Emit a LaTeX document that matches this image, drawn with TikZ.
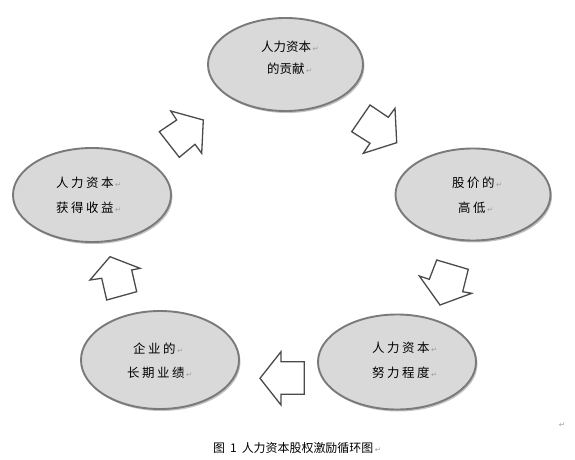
\documentclass[tikz,border=0pt]{standalone}
\usepackage{fontspec}
\usetikzlibrary{shapes.geometric,shadows}
\newfontfamily\cjk{Noto Sans CJK SC}
\newfontfamily\dvs{DejaVu Sans}
\definecolor{ellfill}{HTML}{D9D9D9}
\definecolor{elldraw}{HTML}{7A7A7A}
\definecolor{shadowc}{HTML}{9A9A9A}
\definecolor{arrowc}{HTML}{4A4A4A}
\definecolor{markc}{HTML}{A0A0A0}
\newcommand\rt{\hspace{1.5bp}{\dvs\fontsize{7.5}{8}\selectfont\color{markc}↵}}
\newcommand\gp{\kern2.5bp}
\begin{document}
\begin{tikzpicture}[x=1bp,y=-1bp,
  ell/.style={ellipse, draw=elldraw, line width=1.9bp, fill=ellfill, inner sep=0pt,
    drop shadow={shadow xshift=1.5bp, shadow yshift=-2bp, fill=shadowc, opacity=0.6}},
  lbl/.style={font=\cjk\fontsize{12.5}{14}\selectfont, inner sep=0pt, anchor=west},
  blockarrow/.style={draw=arrowc, line width=1.3bp, fill=white, line join=miter}]
\useasboundingbox (0,0) rectangle (575,460);
\fill[white] (0,0) rectangle (575,460);

% ellipses
\node[ell, minimum width=155bp, minimum height=93bp] (top) at (285.5,64.5) {};
\node[ell, minimum width=155bp, minimum height=92bp] (right) at (473,194.5) {};
\node[ell, minimum width=158bp, minimum height=94bp] (left) at (92,195) {};
\node[ell, minimum width=158bp, minimum height=98bp] (bl) at (160,360) {};
\node[ell, minimum width=158bp, minimum height=95bp] (br) at (397,362) {};

% labels
\node[lbl] (t1) at (261,47) {人力资本\rt};
\node[lbl] (t2) at (267,69) {的贡献\rt};
\node[lbl] (r1) at (452,183) {股\gp 价\gp 的\rt};
\node[lbl] (r2) at (458,208) {高\gp 低\rt};
\node[lbl] (l1) at (56,183) {人\gp 力\gp 资\gp 本\rt};
\node[lbl] (l2) at (56,208) {获\gp 得\gp 收\gp 益\rt};
\node[lbl] (b1) at (133,349) {企\gp 业\gp 的\rt};
\node[lbl] (b2) at (127,373) {长\gp 期\gp 业\gp 绩\rt};
\node[lbl] (c1) at (372,348) {人\gp 力\gp 资\gp 本\rt};
\node[lbl] (c2) at (372,373) {努\gp 力\gp 程\gp 度\rt};

% block arrows
\draw[blockarrow] (159.3,131.7) -- (176.7,120) -- (170.7,111) -- (203.3,120) -- (201.7,153.3) -- (195,144.3) -- (179.3,157.3) -- cycle;
\draw[blockarrow] (370,105) -- (388.3,117.3) -- (395,108.3) -- (396.7,142.7) -- (363.3,153.3) -- (370,143.3) -- (351.7,131.7) -- cycle;
\draw[blockarrow] (436.7,260) -- (468.3,269.3) -- (462.7,291.7) -- (471.7,293.3) -- (440,305) -- (419.3,276) -- (429.3,279.3) -- cycle;
\draw[blockarrow] (304.3,361.7) -- (281,361.7) -- (281,351.7) -- (260,378.3) -- (281,405) -- (281,394.3) -- (304.3,394.3) -- cycle;
\draw[blockarrow] (136.7,291.7) -- (131.7,270) -- (140,268.3) -- (110,256.7) -- (90,280) -- (101.7,278.3) -- (106.7,300) -- cycle;

% caption
\node[lbl, font=\cjk\fontsize{12}{14}\selectfont] (cap) at (213,448) {图\hspace{5bp}1\hspace{5bp}人力资本股权激励循环图\rt};
\node[inner sep=0pt, font=\dvs\fontsize{7.5}{8}\selectfont, text=markc] (stray) at (562,425) {↵};
\end{tikzpicture}
\end{document}
